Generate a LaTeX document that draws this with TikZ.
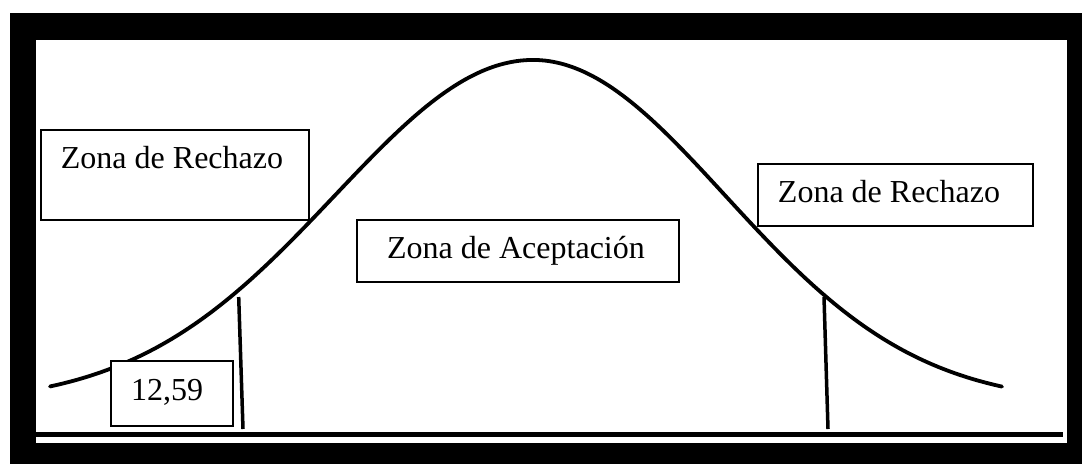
\documentclass[tikz,border=0pt]{standalone}
\usepackage{fontspec}
\setmainfont{Liberation Serif}
\begin{document}
\begin{tikzpicture}[x=1pt,y=-1pt,
  curve/.style={line width=3.8pt, line cap=round, line join=round},
  zbox/.style={draw, fill=white, line width=1.8pt, inner sep=0pt, anchor=north west},
  ztxt/.style={font=\fontsize{32}{38}\selectfont, anchor=base, inner sep=0pt},
  vline/.style={line width=3.5pt}]
\useasboundingbox (0,0) rectangle (1082,464);
% frame
\fill[black] (10,13) rectangle (1082,464);
\fill[white] (36,40) rectangle (1067,443);
% axis
\coordinate (axL) at (36,434);
\coordinate (axR) at (1063,434);
\draw[line width=5pt] (axL) -- (axR);
% curve
\draw[curve] plot[domain=50:533, samples=120] (\x, {404-344*exp(-0.5*((\x-533)/198)^2)})
  -- plot[domain=533:1002, samples=120] (\x, {404-344*exp(-0.5*((\x-533)/192)^2)});
% critical lines
\coordinate (c1t) at (238.7,297);
\coordinate (c1b) at (243,429);
\coordinate (c2t) at (824,297);
\coordinate (c2b) at (828,429);
\draw[vline] (c1t) -- (c1b);
\draw[vline] (c2t) -- (c2b);
% boxes
\node[zbox, minimum width=268pt, minimum height=90pt] (rl) at (40,129) {};
\node[ztxt] (rlt) at (172,168) {Zona de Rechazo};
\node[zbox, minimum width=275pt, minimum height=62pt] (rr) at (757,163) {};
\node[ztxt] (rrt) at (889,202) {Zona de Rechazo};
\node[zbox, minimum width=322pt, minimum height=62pt] (ac) at (356,219) {};
\node[ztxt] (act) at (516,258) {Zona de Aceptación};
\node[zbox, minimum width=122pt, minimum height=65pt] (cv) at (110,360) {};
\node[ztxt] (cvt) at (167,400) {12,59};
\end{tikzpicture}
\end{document}
